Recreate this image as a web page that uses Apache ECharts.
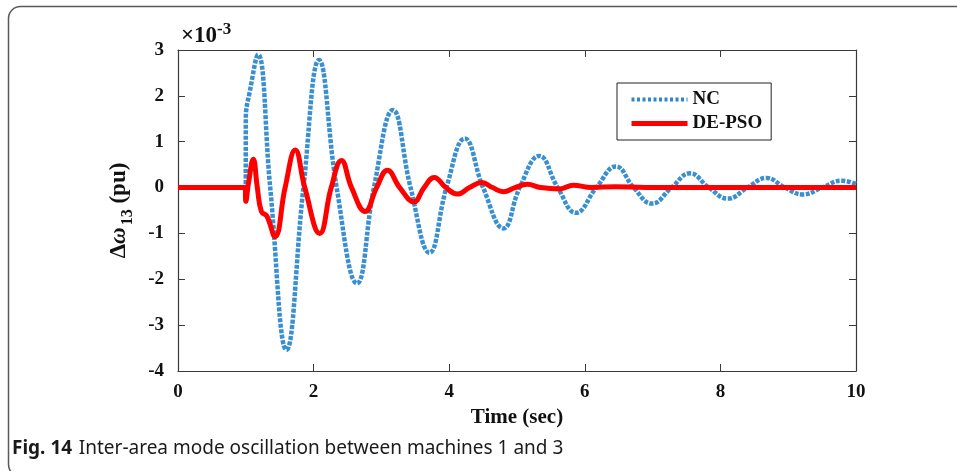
<!DOCTYPE html>
<html>
<head>
<meta charset="utf-8">
<script src="https://cdn.jsdelivr.net/npm/echarts@6/dist/echarts.min.js"></script>
<style>
  html, body { margin: 0; padding: 0; background: #fff; }
  #chart { width: 957px; height: 471px; }
</style>
</head>
<body>
<div id="chart"></div>
<script>
// values in units of 1e-3 pu
var ncTime = [0, 0.999, 1.0, 1.06, 1.18, 1.36, 1.60, 1.85, 2.08, 2.34, 2.64, 2.89, 3.17, 3.43, 3.71, 3.96, 4.23, 4.50, 4.80, 5.04, 5.33, 5.60, 5.87, 6.17, 6.46, 6.72, 6.99, 7.28, 7.55, 7.83, 8.11, 8.40, 8.68, 8.95, 9.22, 9.50, 9.79, 10.0]
var ncValue = [0, 0, 1.5, 2.1, 2.9, 0, -3.54, 0, 2.78, 0, -2.09, 0, 1.69, 0, -1.42, 0, 1.07, 0, -0.89, 0, 0.69, 0, -0.55, 0, 0.46, 0, -0.35, 0, 0.31, 0, -0.24, 0, 0.21, 0, -0.15, 0, 0.15, 0.08]

var psoTime = [0, 0.99, 1.0, 1.04, 1.11, 1.17, 1.23, 1.31, 1.43, 1.58, 1.73, 1.87, 2.09, 2.26, 2.41, 2.56, 2.76, 2.93, 3.09, 3.27, 3.48, 3.63, 3.78, 3.95, 4.12, 4.30, 4.48, 4.64, 4.80, 4.97, 5.15, 5.35, 5.63, 5.83, 6.1, 6.45, 6.9, 10.0]
var psoValue = [0, 0, -0.3, 0.1, 0.62, 0, -0.52, -0.62, -1.07, 0, 0.82, 0, -1.0, 0, 0.59, 0, -0.52, 0, 0.38, 0, -0.31, 0, 0.22, 0, -0.14, 0, 0.11, 0, -0.09, 0, 0.07, 0, -0.03, 0.05, 0, 0.02, 0, 0]

var xTicks = [0, 2, 4, 6, 8, 10]
var yTicks = [-4, -3, -2, -1, 0, 1, 2, 3]

function pairs(t, v) {
  return t.map(function (x, i) { return [x, v[i]] })
}

var serif = '"Liberation Serif", "DejaVu Serif", serif'
var axisColor = '#3a3a3a'

var myChart = echarts.init(document.getElementById('chart'))

var baseX = {
  type: 'value',
  min: xTicks[0],
  max: xTicks[xTicks.length - 1],
  interval: 2,
  axisLine: { show: true, onZero: false, lineStyle: { color: axisColor, width: 1.2 } },
  axisTick: { show: true, inside: true, length: 7, lineStyle: { color: axisColor } },
  splitLine: { show: false }
}
var baseY = {
  type: 'value',
  min: yTicks[0],
  max: yTicks[yTicks.length - 1],
  interval: 1,
  axisLine: { show: true, onZero: false, lineStyle: { color: axisColor, width: 1.2 } },
  axisTick: { show: true, inside: true, length: 7, lineStyle: { color: axisColor } },
  splitLine: { show: false }
}

var option = {
  animation: false,
  backgroundColor: '#fff',
  grid: { left: 178, right: 101, top: 50, bottom: 100 },
  graphic: [
    {
      type: 'rect',
      shape: { x: 8.5, y: 6.5, width: 1000, height: 470, r: 12 },
      style: { fill: 'none', stroke: '#5a5a5a', lineWidth: 1.5 },
      silent: true
    },
    {
      type: 'text',
      left: 181,
      top: 21,
      style: {
        text: '{a|×10}{b|-3}',
        rich: {
          a: { fontFamily: serif, fontWeight: 'bold', fontSize: 23, fill: '#111', verticalAlign: 'bottom', lineHeight: 27 },
          b: { fontFamily: serif, fontWeight: 'bold', fontSize: 17, fill: '#111', verticalAlign: 'top', lineHeight: 27 }
        }
      }
    },
    {
      type: 'text',
      left: 12,
      top: 439,
      style: {
        text: '{b|Fig. 14}  {n|Inter-area mode oscillation between machines 1 and 3}',
        rich: {
          b: { fontFamily: '"Noto Sans", sans-serif', fontWeight: 'bold', fontSize: 19, fill: '#1a1a1a' },
          n: { fontFamily: '"Noto Sans", sans-serif', fontSize: 19, fill: '#1a1a1a' }
        }
      }
    }
  ],
  legend: {
    left: 617,
    top: 83,
    orient: 'vertical',
    padding: [7, 9, 7, 12],
    itemGap: 5,
    itemWidth: 56,
    itemHeight: 14,
    backgroundColor: '#fff',
    borderColor: '#222',
    borderWidth: 1,
    itemStyle: { opacity: 0 },
    textStyle: { fontFamily: serif, fontWeight: 'bold', fontSize: 19, color: '#111' },
    data: [
      { name: 'NC', lineStyle: { width: 4, type: [3, 2.5], color: '#2f86c8' } },
      { name: 'DE-PSO', lineStyle: { width: 5, color: '#ff0000' } }
    ]
  },
  xAxis: [
    Object.assign({}, baseX, {
      position: 'bottom',
      name: 'Time (sec)',
      nameLocation: 'middle',
      nameGap: 36,
      nameTextStyle: { fontFamily: serif, fontWeight: 'bold', fontSize: 21, color: '#111' },
      axisLabel: { fontFamily: serif, fontWeight: 'bold', fontSize: 19, color: '#111', margin: 12 }
    }),
    Object.assign({}, baseX, { position: 'top', axisLabel: { show: false } })
  ],
  yAxis: [
    Object.assign({}, baseY, {
      position: 'left',
      name: '{d|Δ}{w|ω}{s|13}{d| (pu)}',
      nameLocation: 'middle',
      nameGap: 42,
      nameRotate: 90,
      nameTextStyle: {
        rich: {
          d: { fontFamily: serif, fontWeight: 'bold', fontSize: 23, color: '#111' },
          w: { fontFamily: serif, fontWeight: 'bold', fontStyle: 'italic', fontSize: 23, color: '#111' },
          s: { fontFamily: serif, fontWeight: 'bold', fontSize: 16, color: '#111', padding: [18, 0, 0, 2] }
        }
      },
      axisLabel: { fontFamily: serif, fontWeight: 'bold', fontSize: 19, color: '#111', margin: 14 }
    }),
    Object.assign({}, baseY, { position: 'right', axisLabel: { show: false } })
  ],
  series: [
    {
      name: 'NC',
      type: 'line',
      data: pairs(ncTime, ncValue),
      smooth: 0.45,
      symbol: 'none',
      color: '#3a8fd0',
      lineStyle: { width: 4.5, type: [4, 1.5], color: '#3a8fd0' },
      z: 2
    },
    {
      name: 'DE-PSO',
      type: 'line',
      data: pairs(psoTime, psoValue),
      smooth: 0.45,
      symbol: 'none',
      color: '#ff0000',
      lineStyle: { width: 5, color: '#ff0000' },
      z: 3
    }
  ]
}

myChart.setOption(option)
window.addEventListener('resize', function () { myChart.resize() })
</script>
</body>
</html>
